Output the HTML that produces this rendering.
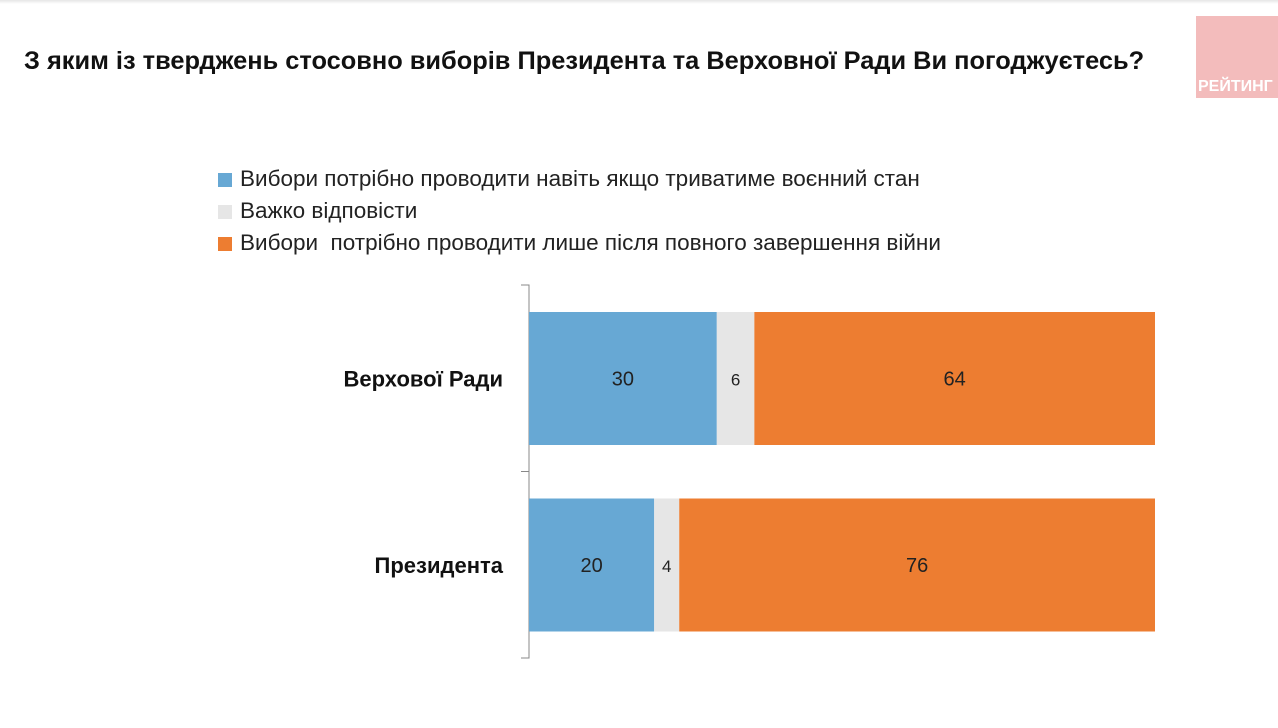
<!DOCTYPE html>
<html><head><meta charset="utf-8"><style>
body{margin:0;width:1278px;height:728px;background:#fff;position:relative;overflow:hidden;font-family:"Liberation Sans",Arial,sans-serif}
.t{position:absolute;white-space:nowrap}
</style></head><body>
<div style="position:absolute;left:0;top:0;width:1278px;height:4px;background:linear-gradient(#e6e6e6,#fff)"></div>
<div class="t" style="left:24px;top:47px;font-size:25.4px;font-weight:bold;color:#111">З яким із тверджень стосовно виборів Президента та Верховної Ради Ви погоджуєтесь?</div>
<div style="position:absolute;left:1196px;top:16px;width:82px;height:82px;background:#f3bcbc"><div class="t" style="left:2px;top:62px;font-size:16px;font-weight:bold;color:#fff">РЕЙТИНГ</div></div>
<div id="legend"></div>
<svg id="chart" width="1278" height="728" style="position:absolute;left:0;top:0"></svg>
<script>
const categories=["Верхової Ради","Президента"];
const seriesNames=["Вибори потрібно проводити навіть якщо триватиме воєнний стан","Важко відповісти","Вибори&nbsp; потрібно проводити лише після повного завершення війни"];
const yes=[30,20];
const hard=[6,4];
const after=[64,76];
const colors=["#67a8d4","#e6e6e6","#ed7d31"];
const svg=document.getElementById('chart');const NS="http://www.w3.org/2000/svg";
const x0=529,x1=1155;const xs=v=>x0+(x1-x0)*v/100;
const bandTop=285,bandH=186.5;
function mk(t,a){const e=document.createElementNS(NS,t);for(const k in a)e.setAttribute(k,a[k]);svg.appendChild(e);return e;}
const ax=mk('path',{d:`M${x0-8} ${bandTop}H${x0}V${bandTop+2*bandH}H${x0-8}M${x0-8} ${bandTop+bandH}H${x0}`,stroke:'#888',fill:'none','stroke-width':1});


const series=[yes,hard,after];
categories.forEach((c,i)=>{
 const y=bandTop+bandH*i+27,h=133;
 const lb=mk('text',{x:503,y:y+h/2+8,'text-anchor':'end','font-size':22,'font-weight':'bold',fill:'#111'});lb.textContent=c;
 
 
 let acc=0;
 series.forEach((s,j)=>{
  const r=mk('rect',{x:xs(acc),y:y,width:xs(acc+s[i])-xs(acc),height:h,fill:colors[j]});
  
  
  const t=mk('text',{x:(xs(acc)+xs(acc+s[i]))/2,y:y+h/2+7,'text-anchor':'middle','font-size':j==1?17:20,fill:'#222'});t.textContent=s[i];
  
  
  acc+=s[i];
 });
});
const lg=document.getElementById('legend');
seriesNames.forEach((n,j)=>{
 const d=document.createElement('div');d.className='t';d.style.cssText=`left:218px;top:${166+j*32}px;font-size:22.5px;color:#222`;
 
 
 d.innerHTML=`<span style="display:inline-block;width:14px;height:14px;background:${colors[j]};margin-right:8px;vertical-align:-1px"></span>${n}`;
 lg.appendChild(d);
});
</script>
</body></html>
